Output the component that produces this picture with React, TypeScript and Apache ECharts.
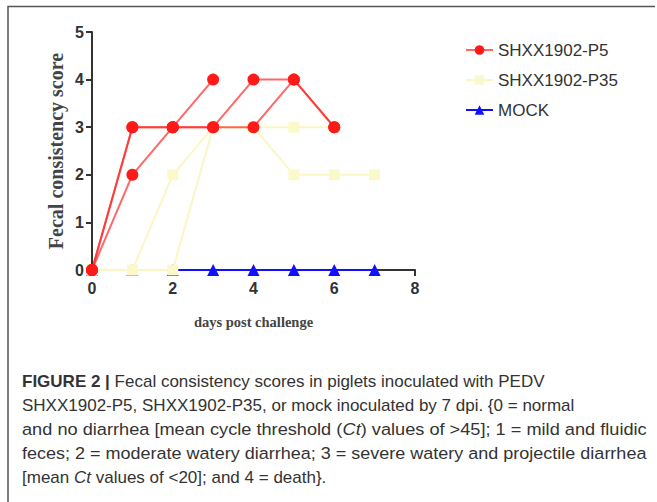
import React, { useEffect, useRef } from "react";
import * as echarts from "echarts";

const xTicks = [0, 2, 4, 6, 8];
const days = [0, 1, 2, 3, 4, 5, 6, 7];
const p5a = [0, 3, 3, 3, 4, 4, 3];
const p5b = [0, 2, 3, 4];
const p5c = [0, 3, 3, 3, 3, 4, 3];
const p35a = [0, 0, 2, 3, 3, 3, 3];
const p35b = [0, 0, 0, 3, 3, 2, 2, 2];
const mock = [0, 0, 0, 0, 0, 0, 0, 0];

const legendNames = ["SHXX1902-P5", "SHXX1902-P35", "MOCK"];

const captionLines = [
  "{b|FIGURE 2 |} Fecal consistency scores in piglets inoculated with PEDV",
  "SHXX1902-P5, SHXX1902-P35, or mock inoculated by 7 dpi. {0 = normal",
  "and no diarrhea [mean cycle threshold ({i|Ct}) values of >45]; 1 = mild and fluidic",
  "feces; 2 = moderate watery diarrhea; 3 = severe watery and projectile diarrhea",
  "[mean {i|Ct} values of <20]; and 4 = death}.",
];
const captionStretch = [1, 1, 1.07, 1.06, 1];

const pts = (vals: number[]) => vals.map((v, i) => [days[i], v]);

export default function App() {
  const ref = useRef<HTMLDivElement>(null);
  useEffect(() => {
    if (!ref.current) return;
    const chart = echarts.init(ref.current, null, { renderer: "svg" });
    const font = "Liberation Sans, Arial, sans-serif";
    const serif = "Liberation Serif, Times New Roman, serif";
    const capStyle = { fontSize: 17, fontFamily: font, fill: "#333" };
    const red = (name: string, data: number[]) => ({
      name,
      type: "line",
      data: pts(data),
      symbol: "circle",
      symbolSize: 12,
      itemStyle: { color: "#ff1a1a" },
      lineStyle: { color: "rgba(255,40,40,0.7)", width: 2 },
      z: 5,
    });
    const yel = (name: string, data: number[]) => ({
      name,
      type: "line",
      data: pts(data),
      symbol: "rect",
      symbolSize: 11,
      itemStyle: { color: "#fbf9cc" },
      lineStyle: { color: "#faf7c4", width: 2 },
      z: 4,
    });
    chart.setOption({
      animation: false,
      grid: { left: 92, right: 242, top: 32, bottom: 232 },
      legend: {
        data: legendNames,
        orient: "vertical",
        left: 460,
        top: 35,
        itemWidth: 27,
        itemHeight: 12,
        itemGap: 10,
        textStyle: { fontSize: 17, fontFamily: font, color: "#333", lineHeight: 20 },
      },
      xAxis: {
        type: "value",
        min: 0,
        max: 8,
        interval: 2,
        data: undefined,
        splitLine: { show: false },
        axisLine: { show: true, lineStyle: { color: "#333", width: 2 } },
        axisTick: { show: true, length: 6, lineStyle: { color: "#333", width: 2 } },
        axisLabel: {
          margin: 10,
          fontSize: 16,
          fontWeight: "bold",
          fontFamily: font,
          color: "#333",
          formatter: (v: number) => (xTicks.includes(v) ? String(v) : ""),
        },
        name: "days post challenge",
        nameLocation: "middle",
        nameGap: 44,
        nameTextStyle: { fontSize: 14.5, fontWeight: "bold", fontFamily: serif, color: "#444" },
      },
      yAxis: {
        type: "value",
        min: 0,
        max: 5,
        interval: 1,
        splitLine: { show: false },
        axisLine: { show: true, lineStyle: { color: "#333", width: 2 } },
        axisTick: { show: true, length: 6, lineStyle: { color: "#333", width: 2 } },
        axisLabel: { margin: 8, fontSize: 16, fontWeight: "bold", fontFamily: font, color: "#333" },
        name: "Fecal consistency score",
        nameLocation: "middle",
        nameGap: 26,
        nameRotate: 90,
        nameTextStyle: { fontSize: 20, fontWeight: "bold", fontFamily: serif, color: "#444" },
      },
      series: [
        {
          name: "MOCK",
          type: "line",
          data: pts(mock),
          symbol: "triangle",
          symbolSize: 12,
          itemStyle: { color: "#1010ff" },
          lineStyle: { color: "#1010ff", width: 2 },
          z: 3,
        },
        yel("SHXX1902-P35", p35a),
        yel("SHXX1902-P35", p35b),
        red("SHXX1902-P5", p5a),
        red("SHXX1902-P5", p5b),
        red("SHXX1902-P5", p5c),
      ],
      graphic: [
        {
          type: "polyline",
          shape: { points: [[8, 502], [8, 6.5], [655, 6.5]] },
          style: { stroke: "#555", lineWidth: 1.5, fill: "none" },
          silent: true,
        },
        ...captionLines.map((t, i) => ({
          type: "text",
          x: 22,
          y: 381 + i * 24,
          scaleX: captionStretch[i],
          style: {
            text: t,
            ...capStyle,
            verticalAlign: "middle",
            rich: {
              b: { ...capStyle, fontWeight: "bold" },
              i: { ...capStyle, fontStyle: "italic" },
            },
          },
        })),
      ],
    });
    return () => chart.dispose();
  }, []);
  return <div ref={ref} style={{ position: "absolute", left: 0, top: 0, width: 657, height: 502 }} />;
}
